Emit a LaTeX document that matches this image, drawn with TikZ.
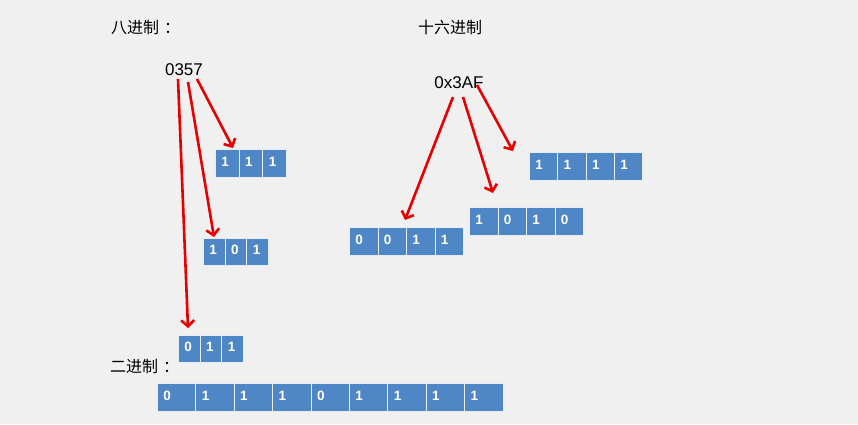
\documentclass[tikz,border=0pt]{standalone}
\usepackage{fontspec}
\setmainfont{Liberation Sans}
\newfontfamily\cjk{Noto Sans CJK SC}
\usetikzlibrary{arrows.meta}
\definecolor{bgc}{RGB}{240,240,240}
\definecolor{cellblue}{RGB}{79,134,198}
\definecolor{arrred}{RGB}{232,0,0}
\tikzset{
  cell/.style={draw=white!85!cellblue, line width=0.8pt, fill=cellblue, anchor=north west,
    inner xsep=6pt, inner ysep=0pt, align=left, text=white, text depth=4pt,
    font=\fontsize{13.5}{14}\selectfont\bfseries},
  title/.style={font=\cjk\fontsize{16}{18}\selectfont, anchor=west, inner sep=0pt},
  num/.style={font=\fontsize{17}{19}\selectfont, inner sep=0pt},
  arr/.style={draw=arrred, line width=2.6pt, -{Straight Barb[length=6pt,width=13pt]}}
}
\newcommand\cellrow[6]{%
  \foreach \d [count=\i from 0] in {#6} {
    \node[cell, minimum width=#4pt, minimum height=#5pt, text width={(#4-12)*1pt}] (#1-\i) at ({#2+\i*#4},#3) {\d};
  }}
\begin{document}
\begin{tikzpicture}[x=1pt,y=-1pt]
\fill[bgc] (0,0) rectangle (858,424);
\useasboundingbox (0,0) rectangle (858,424);
% titles
\node[title] (toct) at (111,27) {八进制\hspace{5pt}：};
\node[title] (thex) at (418,27) {十六进制};
\node[title] (tbin) at (110,366) {二进制\hspace{5pt}：};
% numbers
\node[num] (oct) at (184,70) {0357};
\node[num] (hex) at (459,83) {0x3AF};
% octal cells
\cellrow{o7}{215}{149}{23.7}{28}{1,1,1}
\cellrow{o5}{203}{238}{21.7}{27}{1,0,1}
\cellrow{o3}{178}{335}{21.7}{27}{0,1,1}
% binary row
\cellrow{b}{157}{383}{38.4}{28}{0,1,1,1,0,1,1,1,1}
% hex cells
\cellrow{h3}{349}{227}{28.5}{28}{0,0,1,1}
\cellrow{hA}{469}{207}{28.5}{28}{1,0,1,0}
\cellrow{hF}{529}{152}{28.3}{28}{1,1,1,1}
% arrow endpoints
\coordinate (s7) at (197,79);
\coordinate (e7) at (233,148);
\coordinate (s5) at (188,82);
\coordinate (e5) at (214,237);
\coordinate (s3) at (178,79);
\coordinate (e3) at (188,328);
\coordinate (sh3) at (453,97);
\coordinate (eh3) at (405,220);
\coordinate (shA) at (463,97);
\coordinate (ehA) at (493,193);
\coordinate (shF) at (477,85);
\coordinate (ehF) at (513,151);
\draw[arr] (s7) -- (e7);
\draw[arr] (s5) -- (e5);
\draw[arr] (s3) -- (e3);
\draw[arr] (sh3) -- (eh3);
\draw[arr] (shA) -- (ehA);
\draw[arr] (shF) -- (ehF);
\end{tikzpicture}
\end{document}
